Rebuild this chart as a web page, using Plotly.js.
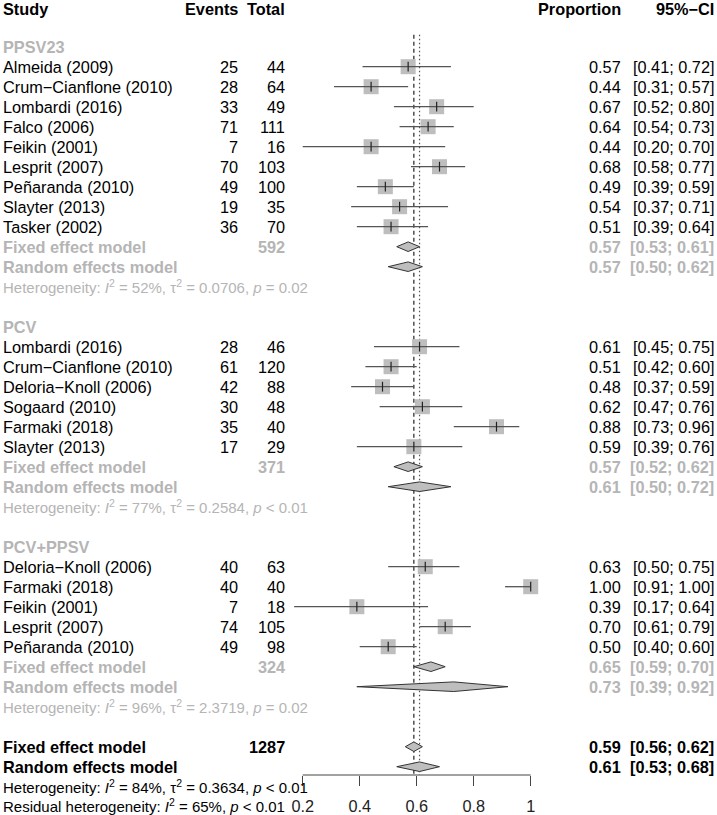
<!DOCTYPE html>
<html>
<head>
<meta charset="utf-8">
<script src="https://cdn.plot.ly/plotly-3.0.1.min.js"></script>
<style>
  body { margin: 0; background: #fff; }
  #forest { width: 717px; height: 815px; }
</style>
</head>
<body>
<div id="forest"></div>
<script>
// Subgroup PPSV23
var ppsvStudy = ['Almeida (2009)', 'Crum\u2212Cianflone (2010)', 'Lombardi (2016)', 'Falco (2006)',
  'Feikin (2001)', 'Lesprit (2007)', 'Pe\u00f1aranda (2010)', 'Slayter (2013)', 'Tasker (2002)'];
var ppsvEvents = [25, 28, 33, 71, 7, 70, 49, 19, 36];
var ppsvTotal = [44, 64, 49, 111, 16, 103, 100, 35, 70];
var ppsvProp = [0.57, 0.44, 0.67, 0.64, 0.44, 0.68, 0.49, 0.54, 0.51];
var ppsvLower = [0.41, 0.31, 0.52, 0.54, 0.20, 0.58, 0.39, 0.37, 0.39];
var ppsvUpper = [0.72, 0.57, 0.80, 0.73, 0.70, 0.77, 0.59, 0.71, 0.64];

// Subgroup PCV
var pcvStudy = ['Lombardi (2016)', 'Crum\u2212Cianflone (2010)', 'Deloria\u2212Knoll (2006)',
  'Sogaard (2010)', 'Farmaki (2018)', 'Slayter (2013)'];
var pcvEvents = [28, 61, 42, 30, 35, 17];
var pcvTotal = [46, 120, 88, 48, 40, 29];
var pcvProp = [0.61, 0.51, 0.48, 0.62, 0.88, 0.59];
var pcvLower = [0.45, 0.42, 0.37, 0.47, 0.73, 0.39];
var pcvUpper = [0.75, 0.60, 0.59, 0.76, 0.96, 0.76];

// Subgroup PCV+PPSV
var bothStudy = ['Deloria\u2212Knoll (2006)', 'Farmaki (2018)', 'Feikin (2001)',
  'Lesprit (2007)', 'Pe\u00f1aranda (2010)'];
var bothEvents = [40, 40, 7, 74, 49];
var bothTotal = [63, 40, 18, 105, 98];
var bothProp = [0.63, 1.00, 0.39, 0.70, 0.50];
var bothLower = [0.50, 0.91, 0.17, 0.61, 0.40];
var bothUpper = [0.75, 1.00, 0.64, 0.79, 0.60];

// Subgroup summaries: [estimate, lower, upper]
var groupNames = ['PPSV23', 'PCV', 'PCV+PPSV'];
var groupFixedTotal = [592, 371, 324];
var groupFixed = [[0.57, 0.53, 0.61], [0.57, 0.52, 0.62], [0.65, 0.59, 0.70]];
var groupRandom = [[0.57, 0.50, 0.62], [0.61, 0.50, 0.72], [0.73, 0.39, 0.92]];
var groupI2 = ['52%', '77%', '96%'];
var groupTau2 = ['0.0706', '0.2584', '2.3719'];
var groupP = ['= 0.02', '< 0.01', '= 0.02'];

// Overall
var overallTotal = 1287;
var overallFixed = [0.59, 0.56, 0.62];
var overallRandom = [0.61, 0.53, 0.68];
var overallI2 = '84%';
var overallTau2 = '0.3634';
var overallP = '< 0.01';
var residualI2 = '65%';
var residualP = '< 0.01';

var xTicks = [0.2, 0.4, 0.6, 0.8, 1];

// page geometry (pixels)
var W = 717, H = 815;
var x02px = 302.7, unitPx = 285;
var rowTop = 6.7, rowStep = 20;
var axisPx = 775;
var xLeft = xTicks[0] - x02px / unitPx;
var xRight = xTicks[0] + (W - x02px) / unitPx;
function px2x(p) { return xLeft + p / W * (xRight - xLeft); }
function px2row(p) { return (p - rowTop) / rowStep; }

var FONT = 'Liberation Sans, Arial, Helvetica, sans-serif';
var FS = 16.3, FS_HET = 15;
var GRAY = '#b5b5b5', BLACK = '#000000';
var colStudy = px2x(1), colEvents = px2x(240), colTotal = px2x(287),
    colProp = px2x(623), colCI = px2x(716);

var annotations = [];
function addText(x, row, text, anchor, color, size) {
  annotations.push({
    x: x, y: row, xref: 'x', yref: 'y', text: text, showarrow: false,
    xanchor: anchor, yanchor: 'middle',
    font: {family: FONT, size: size || FS, color: color || BLACK}
  });
}
function ci(v) { return '[' + v[0].toFixed(2) + '; ' + v[1].toFixed(2) + ']'; }

// marks
var sqX = [], sqY = [];
var ciX = [], ciY = [];
var dmX = [], dmY = [];
var dmHalf = 0.24;

function addDiamond(v, row) {
  dmX.push(v[1], v[0], v[2], v[0], v[1], null);
  dmY.push(row, row - dmHalf, row, row + dmHalf, row, null);
}

// header
var headRow = 0.12;
addText(colStudy, headRow, '<b>Study</b>', 'left');
addText(colEvents, headRow, '<b>Events</b>', 'right');
addText(colTotal, headRow, '<b>Total</b>', 'right');
addText(colProp, headRow, '<b>Proportion</b>', 'right');
addText(colCI, headRow, '<b>95%\u2212CI</b>', 'right');

var groups = [
  [ppsvStudy, ppsvEvents, ppsvTotal, ppsvProp, ppsvLower, ppsvUpper],
  [pcvStudy, pcvEvents, pcvTotal, pcvProp, pcvLower, pcvUpper],
  [bothStudy, bothEvents, bothTotal, bothProp, bothLower, bothUpper]
];

var row = 2;
groups.forEach(function (g, gi) {
  addText(colStudy, row, '<b>' + groupNames[gi] + '</b>', 'left', GRAY);
  row++;
  for (var i = 0; i < g[0].length; i++) {
    addText(colStudy, row, g[0][i], 'left');
    addText(colEvents, row, String(g[1][i]), 'right');
    addText(colTotal, row, String(g[2][i]), 'right');
    addText(colProp, row, g[3][i].toFixed(2), 'right');
    addText(colCI, row, ci([g[4][i], g[5][i]]), 'right');
    sqX.push(g[3][i]); sqY.push(row);
    ciX.push(g[4][i], g[5][i], null); ciY.push(row, row, null);
    row++;
  }
  var f = groupFixed[gi], r = groupRandom[gi];
  addText(colStudy, row, '<b>Fixed effect model</b>', 'left', GRAY);
  addText(colTotal, row, '<b>' + groupFixedTotal[gi] + '</b>', 'right', GRAY);
  addText(colProp, row, '<b>' + f[0].toFixed(2) + '</b>', 'right', GRAY);
  addText(colCI, row, '<b>' + ci([f[1], f[2]]) + '</b>', 'right', GRAY);
  addDiamond(f, row);
  row++;
  addText(colStudy, row, '<b>Random effects model</b>', 'left', GRAY);
  addText(colProp, row, '<b>' + r[0].toFixed(2) + '</b>', 'right', GRAY);
  addText(colCI, row, '<b>' + ci([r[1], r[2]]) + '</b>', 'right', GRAY);
  addDiamond(r, row);
  row++;
  addText(colStudy, row, 'Heterogeneity: <i>I</i><sup>2</sup> = ' + groupI2[gi] + ', \u03c4<sup>2</sup> = ' +
    groupTau2[gi] + ', <i>p</i> ' + groupP[gi], 'left', GRAY, FS_HET);
  row += 2;
});

// overall
addText(colStudy, row, '<b>Fixed effect model</b>', 'left');
addText(colTotal, row, '<b>' + overallTotal + '</b>', 'right');
addText(colProp, row, '<b>' + overallFixed[0].toFixed(2) + '</b>', 'right');
addText(colCI, row, '<b>' + ci([overallFixed[1], overallFixed[2]]) + '</b>', 'right');
addDiamond(overallFixed, row);
row++;
addText(colStudy, row, '<b>Random effects model</b>', 'left');
addText(colProp, row, '<b>' + overallRandom[0].toFixed(2) + '</b>', 'right');
addText(colCI, row, '<b>' + ci([overallRandom[1], overallRandom[2]]) + '</b>', 'right');
addDiamond(overallRandom, row);
row++;
addText(colStudy, row, 'Heterogeneity: <i>I</i><sup>2</sup> = ' + overallI2 + ', \u03c4<sup>2</sup> = ' +
  overallTau2 + ', <i>p</i> ' + overallP, 'left', BLACK, FS_HET);
row++;
addText(colStudy, row - 0.05, 'Residual heterogeneity: <i>I</i><sup>2</sup> = ' + residualI2 + ', <i>p</i> ' +
  residualP, 'left', BLACK, FS_HET);

var data = [
  {
    x: sqX, y: sqY, type: 'scatter', mode: 'markers', hoverinfo: 'skip',
    marker: {symbol: 'square', size: 15, color: '#bebebe', line: {width: 0}}
  },
  {
    x: ciX, y: ciY, type: 'scatter', mode: 'lines', hoverinfo: 'skip',
    line: {color: '#555555', width: 1.3}, cliponaxis: false
  },
  {
    x: sqX, y: sqY, type: 'scatter', mode: 'markers', hoverinfo: 'skip',
    marker: {symbol: 'line-ns', size: 7, line: {color: '#222222', width: 1.2}}
  },
  {
    x: dmX, y: dmY, type: 'scatter', mode: 'lines', fill: 'toself', hoverinfo: 'skip',
    fillcolor: '#bebebe', line: {color: '#333333', width: 1}
  }
];

var axisRow = px2row(axisPx);
var layout = {
  width: W, height: H,
  margin: {l: 0, r: 0, t: 0, b: 0},
  paper_bgcolor: '#ffffff', plot_bgcolor: '#ffffff',
  showlegend: false,
  font: {family: FONT, size: FS, color: BLACK},
  xaxis: {
    range: [xLeft, xRight], anchor: 'free', position: (H - axisPx) / H,
    showgrid: false, zeroline: false, showline: false,
    tickmode: 'array', tickvals: xTicks, ticktext: xTicks.map(String),
    ticks: 'outside', ticklen: 10, tickwidth: 1, tickcolor: '#444444',
    ticklabelstandoff: 6,
    tickfont: {family: FONT, size: FS, color: '#222222'}
  },
  yaxis: {
    range: [px2row(H), px2row(0)], visible: false, showgrid: false, zeroline: false
  },
  shapes: [
    {type: 'line', xref: 'x', yref: 'y', x0: xTicks[0], x1: xTicks[xTicks.length - 1],
      y0: axisRow, y1: axisRow, line: {color: '#444444', width: 1}},
    {type: 'line', xref: 'x', yref: 'y', layer: 'below', x0: overallFixed[0], x1: overallFixed[0],
      y0: 1.4, y1: axisRow, line: {color: '#222222', width: 1.2, dash: '4px,3px'}},
    {type: 'line', xref: 'x', yref: 'y', layer: 'below', x0: overallRandom[0], x1: overallRandom[0],
      y0: 1.4, y1: axisRow, line: {color: '#555555', width: 1.2, dash: '1.5px,2.5px'}}
  ],
  annotations: annotations
};

Plotly.newPlot('forest', data, layout, {staticPlot: true});
</script>
</body>
</html>
